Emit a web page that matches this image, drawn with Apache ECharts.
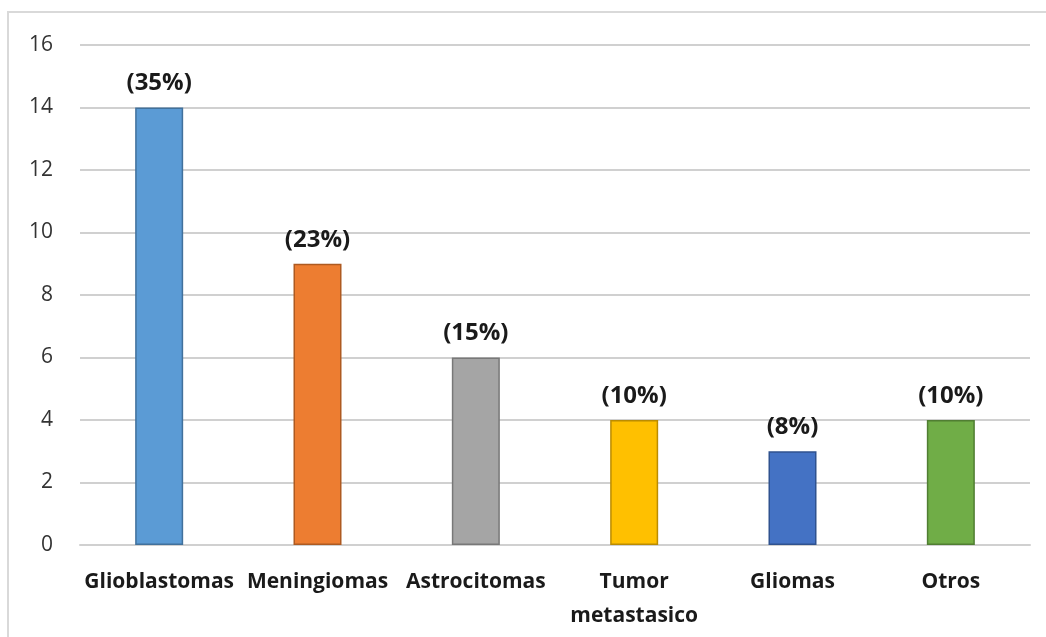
<!DOCTYPE html>
<html>
<head>
<meta charset="utf-8">
<script src="https://cdn.jsdelivr.net/npm/echarts@6/dist/echarts.min.js"></script>
<style>
  html, body { margin: 0; padding: 0; background: #fff; }
  #chart { width: 1046px; height: 637px; }
</style>
</head>
<body>
<div id="chart"></div>
<script>
// --- datos ---
const categories = ['Glioblastomas', 'Meningiomas', 'Astrocitomas', 'Tumor\nmetastasico', 'Gliomas', 'Otros']
const counts = [14, 9, 6, 4, 3, 4]
const percents = ['(35%)', '(23%)', '(15%)', '(10%)', '(8%)', '(10%)']
const barColors = ['#5B9BD5', '#ED7D31', '#A5A5A5', '#FFC000', '#4472C4', '#70AD47']
const borderColors = ['#41719C', '#AE5A21', '#787878', '#BC8C00', '#2F528F', '#507E32']

const chart = echarts.init(document.getElementById('chart'))

chart.setOption({
  backgroundColor: '#fff',
  animation: false,
  textStyle: { fontFamily: 'Open Sans' },
  graphic: [
    {
      type: 'rect',
      shape: { x: 8, y: 12, width: 1060, height: 660 },
      style: { fill: 'none', stroke: '#d9d9d9', lineWidth: 2 }
    }
  ],
  grid: { left: 80, right: 16, top: 45, bottom: 92 },
  xAxis: {
    type: 'category',
    data: categories,
    axisLine: { show: true, lineStyle: { color: '#d0d0d0', width: 2 } },
    axisTick: { show: false },
    axisLabel: {
      interval: 0,
      margin: 20,
      color: '#1a1a1a',
      fontSize: 21,
      fontWeight: 'bold',
      lineHeight: 34,
      fontFamily: 'Open Sans'
    }
  },
  yAxis: {
    type: 'value',
    min: 0,
    max: 16,
    interval: 2,
    axisLine: { show: false },
    axisTick: { show: false },
    axisLabel: { margin: 27, color: '#333', fontSize: 21, fontFamily: 'Open Sans' },
    splitLine: { lineStyle: { color: '#d0d0d0', width: 2 } }
  },
  series: [
    {
      type: 'bar',
      barWidth: 48,
      data: counts.map((v, i) => ({
        value: v,
        itemStyle: { color: barColors[i], borderColor: borderColors[i], borderWidth: 1.5 }
      })),
      label: {
        show: true,
        position: 'top',
        distance: 12,
        formatter: (p) => percents[p.dataIndex],
        color: '#1a1a1a',
        fontSize: 24,
        fontWeight: 'bold',
        fontFamily: 'Open Sans'
      }
    }
  ]
})
</script>
</body>
</html>
